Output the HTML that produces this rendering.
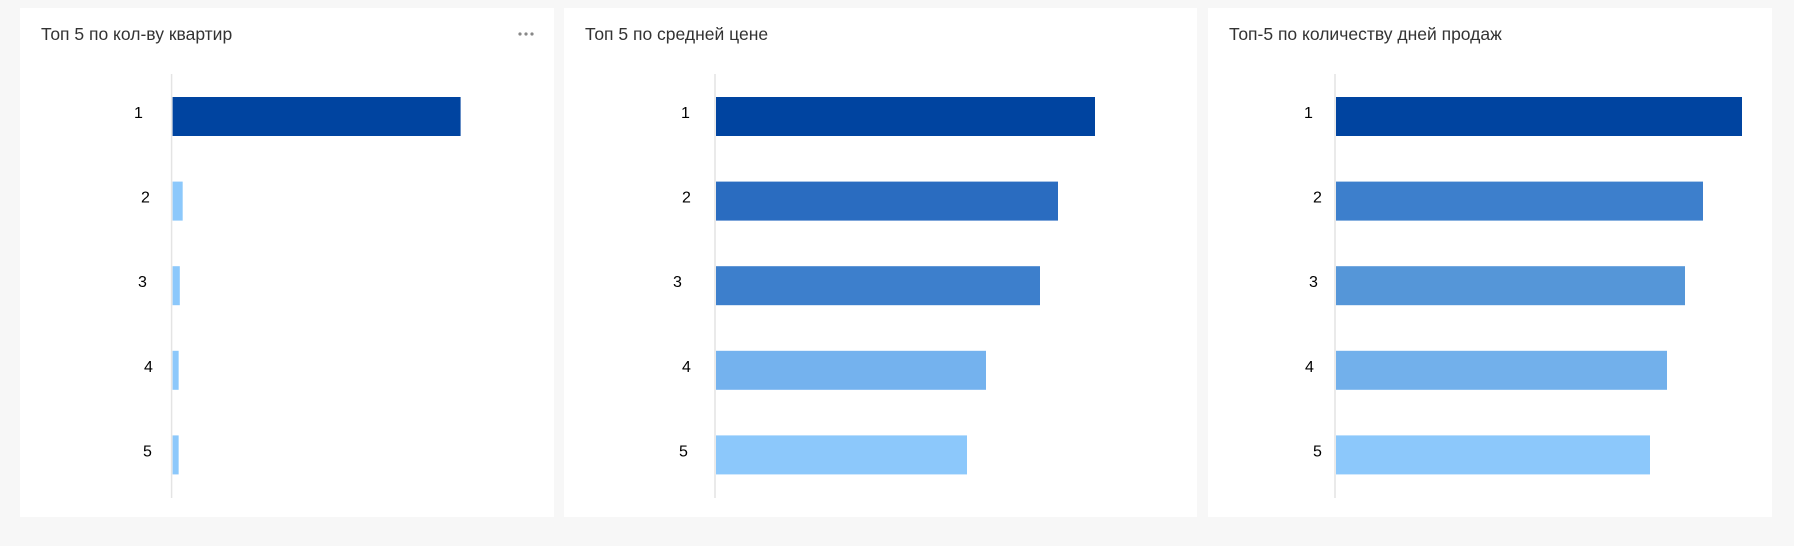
<!DOCTYPE html>
<html><head><meta charset="utf-8"><style>
html,body{margin:0;padding:0;width:1794px;height:546px;background:#f7f7f7;overflow:hidden;font-family:"Liberation Sans","Noto Sans CJK SC",sans-serif}
</style></head><body>
<svg id="c" width="1794" height="546" xmlns="http://www.w3.org/2000/svg"></svg>
<script>
const categories = ["1","2","3","4","5"];
const qtyValues = [100, 3.5, 2.5, 2.1, 2.1];
const priceValues = [379, 342, 324, 270, 251];
const daysValues = [406, 367, 349, 331, 314];
const titles = ["Топ 5 по кол-ву квартир","Топ 5 по средней цене","Топ-5 по количеству дней продаж"];

const NS="http://www.w3.org/2000/svg";
const svg=document.getElementById('c');
function mk(t,a){const e=document.createElementNS(NS,t);for(const k in a)e.setAttribute(k,a[k]);return e;}

const panels=[
 {x:20,w:534,axis:172.6,range:288,vals:qtyValues,colors:["#0044a0","#8cc8fb","#8cc8fb","#8cc8fb","#8cc8fb"],lx:[134,141,138,144,143],dots:true},
 {x:564,w:633,axis:716,range:379,vals:priceValues,colors:["#0044a0","#2a6cc0","#3d7fcc","#74b2ee","#8cc8fb"],lx:[681,682,673,682,679]},
 {x:1208,w:564,axis:1336,range:406,vals:daysValues,colors:["#0044a0","#3d7fcc","#5596d8","#72b0eb","#8cc8fb"],lx:[1304,1313,1309,1305,1313]}
];
const yBand=i=>97+i*84.6;
panels.forEach((p,pi)=>{
 const g=mk('g',{});
 
 
 svg.appendChild(g);
 const bg=mk('rect',{x:p.x,y:8,width:p.w,height:509,fill:'#fff'});
 
 
 g.appendChild(bg);
 const t=mk('text',{x:p.x+21,y:40,'font-size':17.5,fill:'#333'});
 t.textContent=titles[pi];
 
 
 g.appendChild(t);
 if(p.dots){
  const d=mk('g',{fill:'#888'});
  
  
  [520,526,532].forEach(cx=>d.appendChild(mk('circle',{cx:cx,cy:34,r:1.6})));
  g.appendChild(d);
 }
 const ax=mk('line',{x1:p.axis-1,x2:p.axis-1,y1:74,y2:498,stroke:'#e4e4e4','stroke-width':1.5});
 
 
 g.appendChild(ax);
 const max=Math.max(...p.vals);
 const xs=v=>v/max*p.range;
 categories.forEach((c,i)=>{
  const r=mk('rect',{x:p.axis,y:yBand(i),width:xs(p.vals[i]),height:39,fill:p.colors[i]});
  
  
  g.appendChild(r);
  const l=mk('text',{x:p.lx[i],y:yBand(i)+21,'font-size':16,fill:'#000'});
  l.textContent=c;
  
  
  g.appendChild(l);
 });
});
</script>
</body></html>
